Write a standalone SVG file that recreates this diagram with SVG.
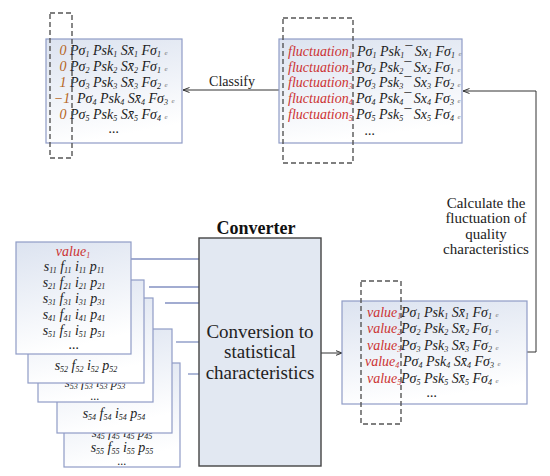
<svg xmlns="http://www.w3.org/2000/svg" width="550" height="476" viewBox="0 0 550 476">
<defs>
<linearGradient id="g" x1="0" y1="0" x2="0.25" y2="1">
<stop offset="0" stop-color="#dce3f0"/>
<stop offset="1" stop-color="#ffffff"/>
</linearGradient>
<marker id="ah" markerWidth="7" markerHeight="6" refX="6.5" refY="3" orient="auto" markerUnits="userSpaceOnUse">
<path d="M0,0.5 L6.5,3 L0,5.5" fill="none" stroke="#333" stroke-width="1"/>
</marker>
<style>
.box{fill:url(#g);stroke:#8f9cc6;stroke-width:1.2}
.dash{fill:none;stroke:#555;stroke-width:1.4;stroke-dasharray:5 3}
.m{font-family:"Liberation Serif",serif;font-style:italic;font-size:14px;fill:#222}
.r{font-family:"Liberation Serif",serif;font-style:italic;font-size:14px;fill:#cc3333}
.n{font-family:"Liberation Serif",serif;font-style:italic;font-size:14px;fill:#b5651d}
.s{font-size:8px;baseline-shift:-1.5px}
.e{font-size:7px;fill:#777}
.lab{font-family:"Liberation Serif",serif;font-size:15px;fill:#222;text-anchor:middle}
.cv{font-family:"Liberation Serif",serif;font-size:19px;fill:#222;text-anchor:middle}
.ln{stroke:#333;stroke-width:1;fill:none}
.bl{stroke:#8391c2;stroke-width:1.3;fill:none}
</style>
</defs>

<g id="connectors">
<line class="ln" x1="279" y1="90" x2="183" y2="90" marker-end="url(#ah)"/>
<polyline class="ln" points="527,352 536,352 536,91 463,91" marker-end="url(#ah)"/>
<line class="ln" x1="321" y1="353" x2="342" y2="353" marker-end="url(#ah)"/>
<line class="bl" x1="131" y1="259" x2="199" y2="259"/>
<line class="bl" x1="149" y1="287" x2="199" y2="287"/>
<line class="bl" x1="165" y1="303" x2="199" y2="303"/>
<line class="bl" x1="176" y1="342" x2="199" y2="342"/>
<line class="bl" x1="188" y1="374" x2="199" y2="374"/>
</g>

<g id="labels">
<text class="lab" x="232" y="86" style="font-size:14px">Classify</text>
<text class="lab" x="486" y="208">Calculate  the</text>
<text class="lab" x="486" y="223">fluctuation of</text>
<text class="lab" x="486" y="239">quality</text>
<text class="lab" x="486" y="254">characteristics</text>
</g>

<g id="classified">
<rect class="box" x="46" y="39" width="136" height="104"/>
<text class="n" x="63" y="55" text-anchor="middle">0</text>
<text class="m" x="70" y="55">Pσ<tspan class="s">1</tspan> Psk<tspan class="s">1</tspan> Sx̄<tspan class="s">1</tspan> Fσ<tspan class="s">1</tspan> <tspan class="e">e</tspan></text>
<text class="n" x="63" y="71" text-anchor="middle">0</text>
<text class="m" x="70" y="71">Pσ<tspan class="s">2</tspan> Psk<tspan class="s">2</tspan> Sx̄<tspan class="s">2</tspan> Fσ<tspan class="s">1</tspan> <tspan class="e">e</tspan></text>
<text class="n" x="63" y="87" text-anchor="middle">1</text>
<text class="m" x="70" y="87">Pσ<tspan class="s">3</tspan> Psk<tspan class="s">3</tspan> Sx̄<tspan class="s">3</tspan> Fσ<tspan class="s">2</tspan> <tspan class="e">e</tspan></text>
<text class="n" x="62" y="103" text-anchor="middle">−1</text>
<text class="m" x="77" y="103">Pσ<tspan class="s">4</tspan> Psk<tspan class="s">4</tspan> Sx̄<tspan class="s">4</tspan> Fσ<tspan class="s">3</tspan> <tspan class="e">e</tspan></text>
<text class="n" x="63" y="119" text-anchor="middle">0</text>
<text class="m" x="70" y="119">Pσ<tspan class="s">5</tspan> Psk<tspan class="s">5</tspan> Sx̄<tspan class="s">5</tspan> Fσ<tspan class="s">4</tspan> <tspan class="e">e</tspan></text>
<text class="m" x="114" y="133" text-anchor="middle">...</text>
<rect class="dash" x="50" y="13" width="22" height="145"/>
</g>

<g id="fluctuation">
<rect class="box" x="279" y="39" width="183" height="104"/>
<text class="r" x="288" y="56">fluctuation<tspan class="s">1</tspan></text>
<text class="m" x="357" y="56">Pσ<tspan class="s">1</tspan> Psk<tspan class="s">1</tspan>¯ Sx<tspan class="s">1</tspan> Fσ<tspan class="s">1</tspan> <tspan class="e">e</tspan></text>
<text class="r" x="288" y="72">fluctuation<tspan class="s">2</tspan></text>
<text class="m" x="356" y="72">Pσ<tspan class="s">2</tspan> Psk<tspan class="s">2</tspan>¯ Sx<tspan class="s">2</tspan> Fσ<tspan class="s">1</tspan> <tspan class="e">e</tspan></text>
<text class="r" x="288" y="87">fluctuation<tspan class="s">3</tspan></text>
<text class="m" x="356" y="87">Pσ<tspan class="s">3</tspan> Psk<tspan class="s">3</tspan>¯ Sx<tspan class="s">3</tspan> Fσ<tspan class="s">2</tspan> <tspan class="e">e</tspan></text>
<text class="r" x="288" y="103">fluctuation<tspan class="s">4</tspan></text>
<text class="m" x="356" y="103">Pσ<tspan class="s">4</tspan> Psk<tspan class="s">4</tspan>¯ Sx<tspan class="s">4</tspan> Fσ<tspan class="s">3</tspan> <tspan class="e">e</tspan></text>
<text class="r" x="288" y="119">fluctuation<tspan class="s">5</tspan></text>
<text class="m" x="356" y="119">Pσ<tspan class="s">5</tspan> Psk<tspan class="s">5</tspan>¯ Sx<tspan class="s">5</tspan> Fσ<tspan class="s">4</tspan> <tspan class="e">e</tspan></text>
<text class="m" x="370" y="135" text-anchor="middle">...</text>
<rect class="dash" x="283" y="18" width="70" height="145"/>
</g>

<g id="converter">
<rect x="199" y="238" width="122" height="228" fill="#e2e8f2" stroke="#444" stroke-width="1.4"/>
<text x="256" y="234" text-anchor="middle" font-family="Liberation Serif, serif" font-weight="bold" font-size="18" fill="#111">Converter</text>
<text class="cv" x="260" y="338">Conversion to</text>
<text class="cv" x="260" y="358">statistical</text>
<text class="cv" x="260" y="379">characteristics</text>
</g>

<g id="values">
<rect class="box" x="342" y="301" width="185" height="103"/>
<text class="r" x="367" y="317">value<tspan class="s">1</tspan></text>
<text class="m" x="401" y="317">Pσ<tspan class="s">1</tspan> Psk<tspan class="s">1</tspan> Sx̄<tspan class="s">1</tspan> Fσ<tspan class="s">1</tspan> <tspan class="e">e</tspan></text>
<text class="r" x="367" y="333">value<tspan class="s">2</tspan></text>
<text class="m" x="401" y="333">Pσ<tspan class="s">2</tspan> Psk<tspan class="s">2</tspan> Sx̄<tspan class="s">2</tspan> Fσ<tspan class="s">1</tspan> <tspan class="e">e</tspan></text>
<text class="r" x="367" y="350">value<tspan class="s">3</tspan></text>
<text class="m" x="401" y="350">Pσ<tspan class="s">3</tspan> Psk<tspan class="s">3</tspan> Sx̄<tspan class="s">3</tspan> Fσ<tspan class="s">2</tspan> <tspan class="e">e</tspan></text>
<text class="r" x="365" y="366">value<tspan class="s">4</tspan></text>
<text class="m" x="403" y="366">Pσ<tspan class="s">4</tspan> Psk<tspan class="s">4</tspan> Sx̄<tspan class="s">4</tspan> Fσ<tspan class="s">3</tspan> <tspan class="e">e</tspan></text>
<text class="r" x="367" y="383">value<tspan class="s">5</tspan></text>
<text class="m" x="401" y="383">Pσ<tspan class="s">5</tspan> Psk<tspan class="s">5</tspan> Sx̄<tspan class="s">5</tspan> Fσ<tspan class="s">4</tspan> <tspan class="e">e</tspan></text>
<text class="m" x="432" y="397" text-anchor="middle">...</text>
<rect class="dash" x="361" y="281" width="40" height="143"/>
</g>

<g id="card5">
<rect class="box" x="64" y="363" width="116" height="104"/>
<text class="m" x="122" y="437" text-anchor="middle" style="font-size:13px">s<tspan class="s">45</tspan> f<tspan class="s">45</tspan> i<tspan class="s">45</tspan> p<tspan class="s">45</tspan></text>
<text class="m" x="122" y="452" text-anchor="middle">s<tspan class="s">55</tspan> f<tspan class="s">55</tspan> i<tspan class="s">55</tspan> p<tspan class="s">55</tspan></text>
<text class="m" x="122" y="465" text-anchor="middle" style="font-size:12px">...</text>
</g>
<g id="card4">
<rect class="box" x="57" y="329" width="115" height="104"/>
<text class="m" x="114" y="418" text-anchor="middle">s<tspan class="s">54</tspan> f<tspan class="s">54</tspan> i<tspan class="s">54</tspan> p<tspan class="s">54</tspan></text>
</g>
<g id="card3">
<rect class="box" x="38" y="298" width="115" height="104"/>
<text class="m" x="95" y="387" text-anchor="middle" style="font-size:13px">s<tspan class="s">53</tspan> f<tspan class="s">53</tspan> i<tspan class="s">53</tspan> p<tspan class="s">53</tspan></text>
<text class="m" x="95" y="400" text-anchor="middle" style="font-size:12px">...</text>
</g>
<g id="card2">
<rect class="box" x="28" y="280" width="116" height="103"/>
<text class="m" x="86" y="370" text-anchor="middle">s<tspan class="s">52</tspan> f<tspan class="s">52</tspan> i<tspan class="s">52</tspan> p<tspan class="s">52</tspan></text>
</g>
<g id="card1">
<rect class="box" x="16" y="242" width="115" height="112"/>
<text class="r" x="73" y="256" text-anchor="middle">value<tspan class="s">1</tspan></text>
<text class="m" x="74" y="271" text-anchor="middle">s<tspan class="s">11</tspan> f<tspan class="s">11</tspan> i<tspan class="s">11</tspan> p<tspan class="s">11</tspan></text>
<text class="m" x="74" y="287" text-anchor="middle">s<tspan class="s">21</tspan> f<tspan class="s">21</tspan> i<tspan class="s">21</tspan> p<tspan class="s">21</tspan></text>
<text class="m" x="74" y="303" text-anchor="middle">s<tspan class="s">31</tspan> f<tspan class="s">31</tspan> i<tspan class="s">31</tspan> p<tspan class="s">31</tspan></text>
<text class="m" x="74" y="319" text-anchor="middle">s<tspan class="s">41</tspan> f<tspan class="s">41</tspan> i<tspan class="s">41</tspan> p<tspan class="s">41</tspan></text>
<text class="m" x="74" y="335" text-anchor="middle">s<tspan class="s">51</tspan> f<tspan class="s">51</tspan> i<tspan class="s">51</tspan> p<tspan class="s">51</tspan></text>
<text class="m" x="74" y="349" text-anchor="middle">...</text>
</g>
</svg>
